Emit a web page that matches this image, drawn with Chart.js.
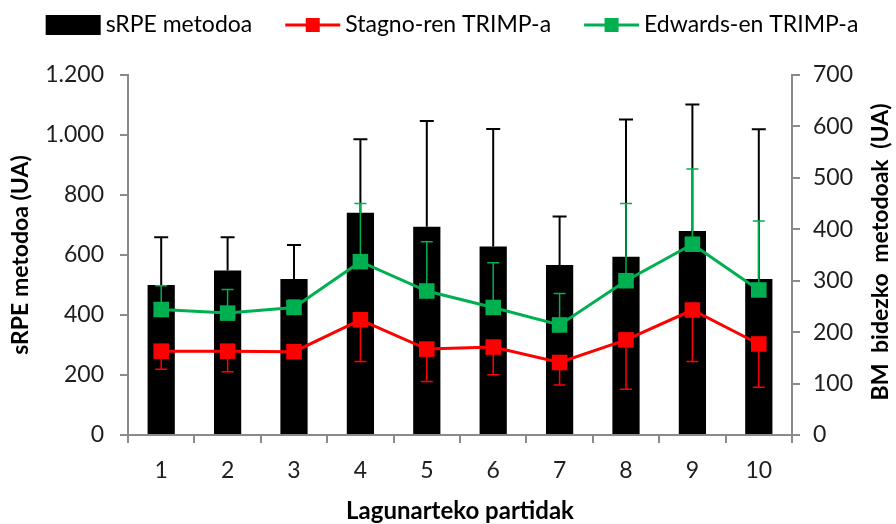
<!DOCTYPE html>
<html>
<head>
<meta charset="utf-8">
<script src="https://cdn.jsdelivr.net/npm/chart.js@4.4.0/dist/chart.umd.min.js"></script>
<style>
html, body { margin: 0; padding: 0; background: #fff; }
#wrap { width: 896px; height: 524px; }
</style>
</head>
<body>
<div id="wrap"><canvas id="chart" width="896" height="524"></canvas></div>
<script>
const partidak = ['1', '2', '3', '4', '5', '6', '7', '8', '9', '10'];

// sRPE (left axis) with upper SD
const srpe = [500, 548, 520, 741, 694, 628, 567, 594, 680, 520];
const srpeSD = [159, 111, 113, 245, 353, 392, 161, 458, 422, 499];

// Stagno TRIMP (right axis) with lower SD
const stagno = [163, 163, 162, 224, 167, 171, 141, 185, 243, 177];
const stagnoSD = [35, 40, 10, 81, 63, 54, 44, 96, 100, 84];

// Edwards TRIMP (right axis) with upper SD
const edwards = [244, 237, 248, 337, 280, 248, 214, 300, 371, 282];
const edwardsSD = [46, 46, 14, 113, 96, 87, 61, 150, 146, 134];

const leftTicks = { min: 0, max: 1200, step: 200 };
const rightTicks = { min: 0, max: 700, step: 100 };

const FONT = 'Lato';
const txtColor = '#1e1e1e';
const axisColor = '#8a8a8a';

function thousands(v) {
    return String(v).replace(/\B(?=(\d{3})+(?!\d))/g, '.');
}

// whiskers, drawn before each dataset so markers sit on top
const errorBars = {
    id: 'errorBars',
    beforeDatasetDraw(chart, args) {
        const ds = chart.data.datasets[args.index];
        if (!ds.errors) return;
        const meta = args.meta;
        const scale = chart.scales[meta.yAxisID];
        const ctx = chart.ctx;
        ctx.save();
        ctx.strokeStyle = ds.errorColor;
        ctx.lineWidth = ds.errorWidth;
        meta.data.forEach((el, i) => {
            const v = ds.data[i];
            const end = v + ds.errorDir * ds.errors[i];
            const y0 = scale.getPixelForValue(v);
            const y1 = scale.getPixelForValue(end);
            const x = el.x;
            ctx.beginPath();
            ctx.moveTo(x, y0);
            ctx.lineTo(x, y1);
            ctx.moveTo(x - ds.capHalf, y1);
            ctx.lineTo(x + ds.capHalf, y1);
            ctx.stroke();
        });
        ctx.restore();
    }
};

// legend row + right axis title (reads bottom to top like the left one)
const extras = {
    id: 'extras',
    afterDraw(chart) {
        const ctx = chart.ctx;
        ctx.save();
        ctx.font = '23px ' + FONT;
        ctx.textBaseline = 'middle';
        const sym = 55, gapIn = 5, gapOut = 33, y = 25;
        const items = chart.data.datasets.map(ds => ({
            label: ds.label, color: ds.legendColor, bar: ds.type === 'bar',
            w: ctx.measureText(ds.label).width
        }));
        let total = 0;
        items.forEach((it, i) => { total += sym + gapIn + it.w + (i ? gapOut : 0); });
        let x = 452 - total / 2;
        items.forEach(it => {
            if (it.bar) {
                ctx.fillStyle = it.color;
                ctx.fillRect(x, y - 10, sym, 20);
            } else {
                ctx.strokeStyle = it.color;
                ctx.lineWidth = 3;
                ctx.beginPath();
                ctx.moveTo(x, y);
                ctx.lineTo(x + sym, y);
                ctx.stroke();
                ctx.fillStyle = it.color;
                ctx.fillRect(x + sym / 2 - 7, y - 7, 14, 14);
            }
            ctx.fillStyle = '#000';
            ctx.fillText(it.label, x + sym + gapIn, y);
            x += sym + gapIn + it.w + gapOut;
        });

        ctx.font = 'bold 23px ' + FONT;
        ctx.wordSpacing = '5px';
        ctx.fillStyle = '#000';
        ctx.textAlign = 'center';
        ctx.translate(881, 252);
        ctx.rotate(-Math.PI / 2);
        ctx.fillText('BM bidezko metodoak (UA)', 0, 0);
        ctx.restore();
    }
};

new Chart(document.getElementById('chart'), {
    data: {
        labels: partidak,
        datasets: [
            {
                type: 'bar',
                label: 'sRPE metodoa',
                data: srpe,
                yAxisID: 'y',
                backgroundColor: '#000',
                legendColor: '#000',
                barPercentage: 0.41,
                categoryPercentage: 1,
                order: 3,
                errors: srpeSD, errorDir: 1, errorColor: '#000', errorWidth: 2, capHalf: 7
            },
            {
                type: 'line',
                label: 'Stagno-ren TRIMP-a',
                data: stagno,
                yAxisID: 'y1',
                borderColor: '#ff0000',
                backgroundColor: '#ff0000',
                legendColor: '#ff0000',
                borderWidth: 3,
                pointStyle: 'rect',
                pointRadius: 11,
                pointBorderWidth: 0,
                order: 1,
                errors: stagnoSD, errorDir: -1, errorColor: '#ff0000', errorWidth: 1.5, capHalf: 6
            },
            {
                type: 'line',
                label: 'Edwards-en TRIMP-a',
                data: edwards,
                yAxisID: 'y1',
                borderColor: '#00b050',
                backgroundColor: '#00b050',
                legendColor: '#00b050',
                borderWidth: 3,
                pointStyle: 'rect',
                pointRadius: 11,
                pointBorderWidth: 0,
                order: 2,
                errors: edwardsSD, errorDir: 1, errorColor: '#00b050', errorWidth: 1.5, capHalf: 6
            }
        ]
    },
    options: {
        responsive: false,
        animation: false,
        layout: { padding: { top: 75, left: 0, right: 0, bottom: 0 } },
        plugins: {
            legend: { display: false },
            tooltip: { enabled: false }
        },
        scales: {
            x: {
                offset: true,
                grid: { offset: true, drawOnChartArea: false, color: axisColor, tickLength: 8, lineWidth: 2 },
                border: { color: axisColor, width: 2 },
                ticks: { color: txtColor, font: { family: FONT, size: 23 }, padding: 14 },
                title: {
                    display: true, text: 'Lagunarteko partidak', color: '#000',
                    font: { family: FONT, size: 24, weight: 'bold' }, padding: { top: 0, bottom: -2 }
                },
                afterFit(s) { s.height = 89; }
            },
            y: {
                position: 'left',
                min: leftTicks.min, max: leftTicks.max,
                grid: { drawOnChartArea: false, color: axisColor, tickLength: 8, lineWidth: 2 },
                border: { color: axisColor, width: 2 },
                ticks: {
                    stepSize: leftTicks.step, color: txtColor, padding: 16,
                    font: { family: FONT, size: 23 },
                    callback: v => thousands(v)
                },
                title: {
                    display: true, text: 'sRPE metodoa (UA)', color: '#000',
                    font: { family: FONT, size: 23, weight: 'bold' }, padding: { top: 7, bottom: 0 }
                },
                afterFit(s) { s.width = 128; }
            },
            y1: {
                position: 'right',
                min: rightTicks.min, max: rightTicks.max,
                grid: { drawOnChartArea: false, color: axisColor, tickLength: 8, lineWidth: 2 },
                border: { color: axisColor, width: 2 },
                ticks: {
                    stepSize: rightTicks.step, color: txtColor, padding: 13,
                    font: { family: FONT, size: 23 }
                },
                afterFit(s) { s.width = 104; }
            }
        }
    },
    plugins: [errorBars, extras]
});
</script>
</body>
</html>
